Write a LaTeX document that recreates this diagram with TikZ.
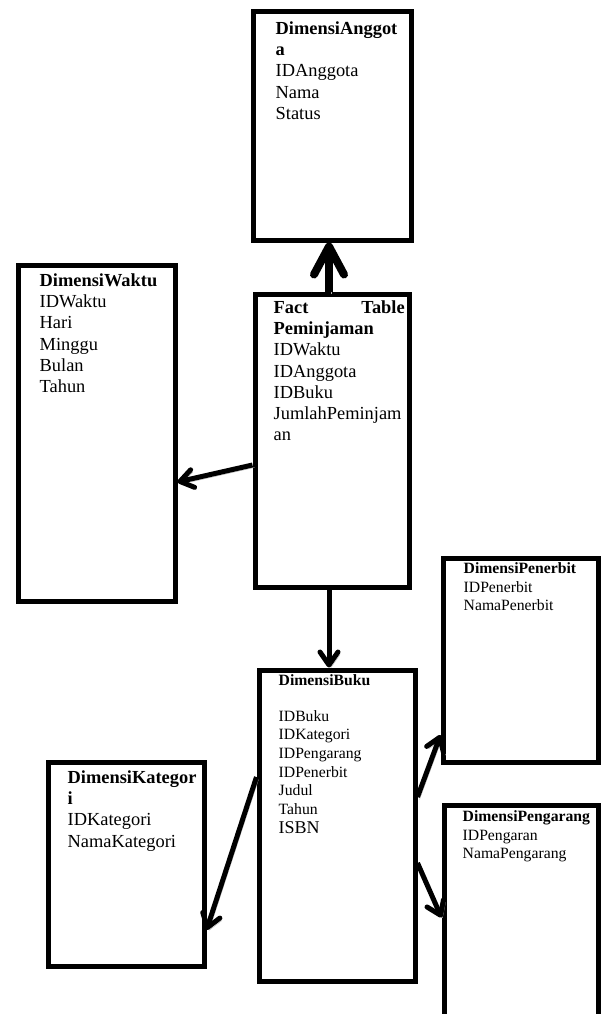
\documentclass[tikz,border=0pt]{standalone}
\usepackage{fontspec}
\setmainfont{Liberation Serif}
\usetikzlibrary{arrows.meta}

\tikzset{
    tabel/.style={draw, line width=5pt, inner sep=0pt},
    isi/.style={anchor=north west, inner sep=0pt, align=left,
        font=\fontsize{18.4}{21.2}\selectfont},
    isikecil/.style={isi, font=\fontsize{15.7}{18.6}\selectfont},
    panah/.style={line width=5pt, -{Straight Barb[length=13pt,width=18pt,round]},
        preaction={draw=gray!60, transform canvas={shift={(2pt,-2.5pt)}}}},
}

\begin{document}
\begin{tikzpicture}[x=1pt, y=-1pt]
    \useasboundingbox (0,0) rectangle (605,1014);
    \clip (0,0) rectangle (605,1014);

    % TOP: anggota
    \node[tabel, minimum width=158pt, minimum height=228pt] (anggota) at (332,126) {};
    \node[isi] (anggota-isi) at ([shift={(25pt,-12pt)}]anggota.north west)
        {\textbf{DimensiAnggot}\\\textbf{a}\\IDAnggota\\Nama\\Status};

    % LEFT: waktu
    \node[tabel, minimum width=157pt, minimum height=336pt] (waktu) at (96.5,433) {};
    \node[isi] (waktu-isi) at ([shift={(24pt,-11pt)}]waktu.north west)
        {\textbf{DimensiWaktu}\\IDWaktu\\Hari\\Minggu\\Bulan\\Tahun};

    % MIDDLE: fact table
    \node[tabel, minimum width=154pt, minimum height=293pt] (fakta) at (332,440.5) {};
    \node[isi, text width=131pt] (fakta-isi) at ([shift={(21pt,-9pt)}]fakta.north west)
        {\textbf{Fact\hfill Table}\\\textbf{Peminjaman}\\IDWaktu\\IDAnggota\\IDBuku\\JumlahPeminjam\\an};

    % BOTTOM: buku
    \node[tabel, minimum width=156pt, minimum height=311pt] (buku) at (337,825.5) {};
    \node[isikecil] (buku-isi) at ([shift={(22pt,-7pt)}]buku.north west)
        {\textbf{DimensiBuku}\\[17pt]IDBuku\\IDKategori\\IDPengarang\\IDPenerbit\\Judul\\Tahun\\[1pt]
         {\fontsize{18}{20}\selectfont ISBN}};

    % RIGHT: penerbit, pengarang
    \node[tabel, minimum width=155pt, minimum height=204pt] (penerbit) at (520.5,660) {};
    \node[isikecil] (penerbit-isi) at ([shift={(23pt,-7pt)}]penerbit.north west)
        {\textbf{DimensiPenerbit}\\IDPenerbit\\NamaPenerbit};

    \node[tabel, minimum width=154pt, minimum height=240pt] (pengarang) at (521,925) {};
    \node[isikecil] (pengarang-isi) at ([shift={(21pt,-8pt)}]pengarang.north west)
        {\textbf{DimensiPengarang}\\IDPengaran\\NamaPengarang};

    % LEFT BOTTOM: kategori
    \node[tabel, minimum width=156pt, minimum height=204pt] (kategori) at (126,864) {};
    \node[isi] (kategori-isi) at ([shift={(22pt,-11pt)}]kategori.north west)
        {\textbf{DimensiKategor}\\\textbf{i}\\IDKategori\\NamaKategori};

    % Arrows
    \draw[panah, line width=8pt, -{Straight Barb[length=28pt,width=30pt,round]}]
        ([xshift=-3pt]fakta.north) -- ([xshift=-3pt]anggota.south);
    \draw[panah] ([yshift=-24.5pt]fakta.west) -- ([yshift=-49pt]waktu.east);
    \draw[panah] ([xshift=-3pt]fakta.south) -- ([xshift=-3pt]fakta.south |- buku.north);
    \draw[panah] ([yshift=28.5pt]buku.east) -- ([yshift=-75pt]penerbit.west);
    \draw[panah] ([yshift=-37.5pt]buku.east) -- ([yshift=-115pt]pengarang.north west);
    \draw[panah] ([yshift=48.5pt]buku.west) -- ([yshift=-66pt]kategori.east);
\end{tikzpicture}
\end{document}
